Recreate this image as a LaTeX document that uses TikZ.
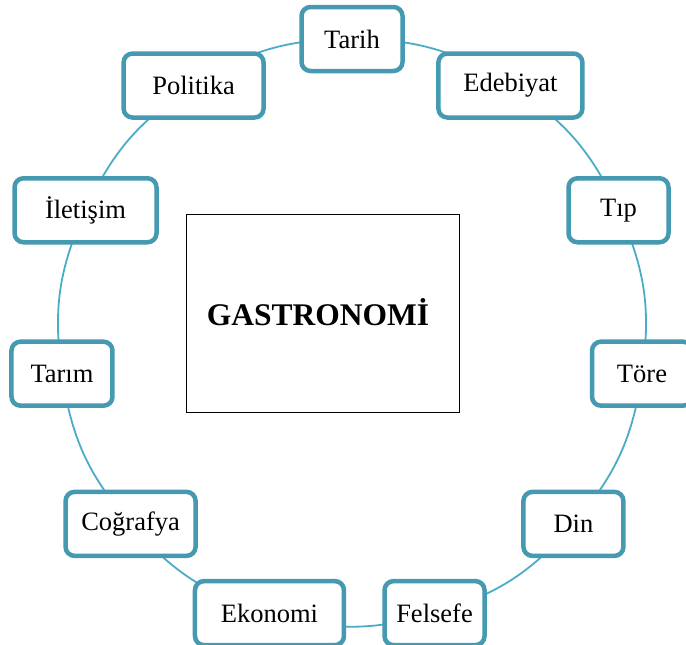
\documentclass[tikz,border=0pt]{standalone}
\usepackage{fontspec}
\setmainfont{Liberation Serif}
\usetikzlibrary{backgrounds}
\definecolor{boxc}{HTML}{4599B1}
\definecolor{arcc}{HTML}{4BACC6}
\begin{document}
\begin{tikzpicture}[x=1pt,y=1pt,
  topic/.style={draw=boxc, line width=4.5pt, rounded corners=9pt, fill=white,
    minimum height=64, inner sep=0pt, font=\fontsize{26.5}{30}\selectfont},
  link/.style={draw=arcc, line width=1.8pt, bend left=16.36},
  core/.style={draw=black, line width=0.8pt, minimum width=273, minimum height=198,
    inner sep=0pt},
  coretext/.style={font=\bfseries\fontsize{31.5}{38}\selectfont, xshift=-5pt, yshift=1.5pt}]
\useasboundingbox (0,0) rectangle (686,-645);
\coordinate (c) at (352,-332);
\node[topic, minimum width=101] (tarih)    at ([shift={(90:293)}]c)      {Tarih};
\node[topic, minimum width=144] (edebiyat) at ([shift={(57.27:293)}]c)   {Edebiyat};
\node[topic, minimum width=100] (tip)      at ([shift={(24.55:293)}]c)   {Tıp};
\node[topic, minimum width=100] (tore)     at ([shift={(-8.18:293)}]c)   {Töre};
\node[topic, minimum width=100] (din)      at ([shift={(-40.91:293)}]c)  {Din};
\node[topic, minimum width=100] (felsefe)  at ([shift={(-73.64:293)}]c)  {Felsefe};
\node[topic, minimum width=149] (ekonomi)  at ([shift={(-106.36:293)}]c) {Ekonomi};
\node[topic, minimum width=130] (cografya) at ([shift={(-139.09:293)}]c) {Coğrafya};
\node[topic, minimum width=101] (tarim)    at ([shift={(-171.82:293)}]c) {Tarım};
\node[topic, minimum width=142] (iletisim) at ([shift={(155.45:293)}]c)  {İletişim};
\node[topic, minimum width=140] (politika) at ([shift={(122.73:293)}]c)  {Politika};
\node[core, label={[coretext]center:GASTRONOMİ}] (gastro) at (323,-313.5) {};
\begin{scope}[on background layer]
\draw[link] (tarih.center) to (edebiyat.center);
\draw[link] (edebiyat.center) to (tip.center);
\draw[link] (tip.center) to (tore.center);
\draw[link] (tore.center) to (din.center);
\draw[link] (din.center) to (felsefe.center);
\draw[link] (felsefe.center) to (ekonomi.center);
\draw[link] (ekonomi.center) to (cografya.center);
\draw[link] (cografya.center) to (tarim.center);
\draw[link] (tarim.center) to (iletisim.center);
\draw[link] (iletisim.center) to (politika.center);
\draw[link] (politika.center) to (tarih.center);
\end{scope}
\end{tikzpicture}
\end{document}
